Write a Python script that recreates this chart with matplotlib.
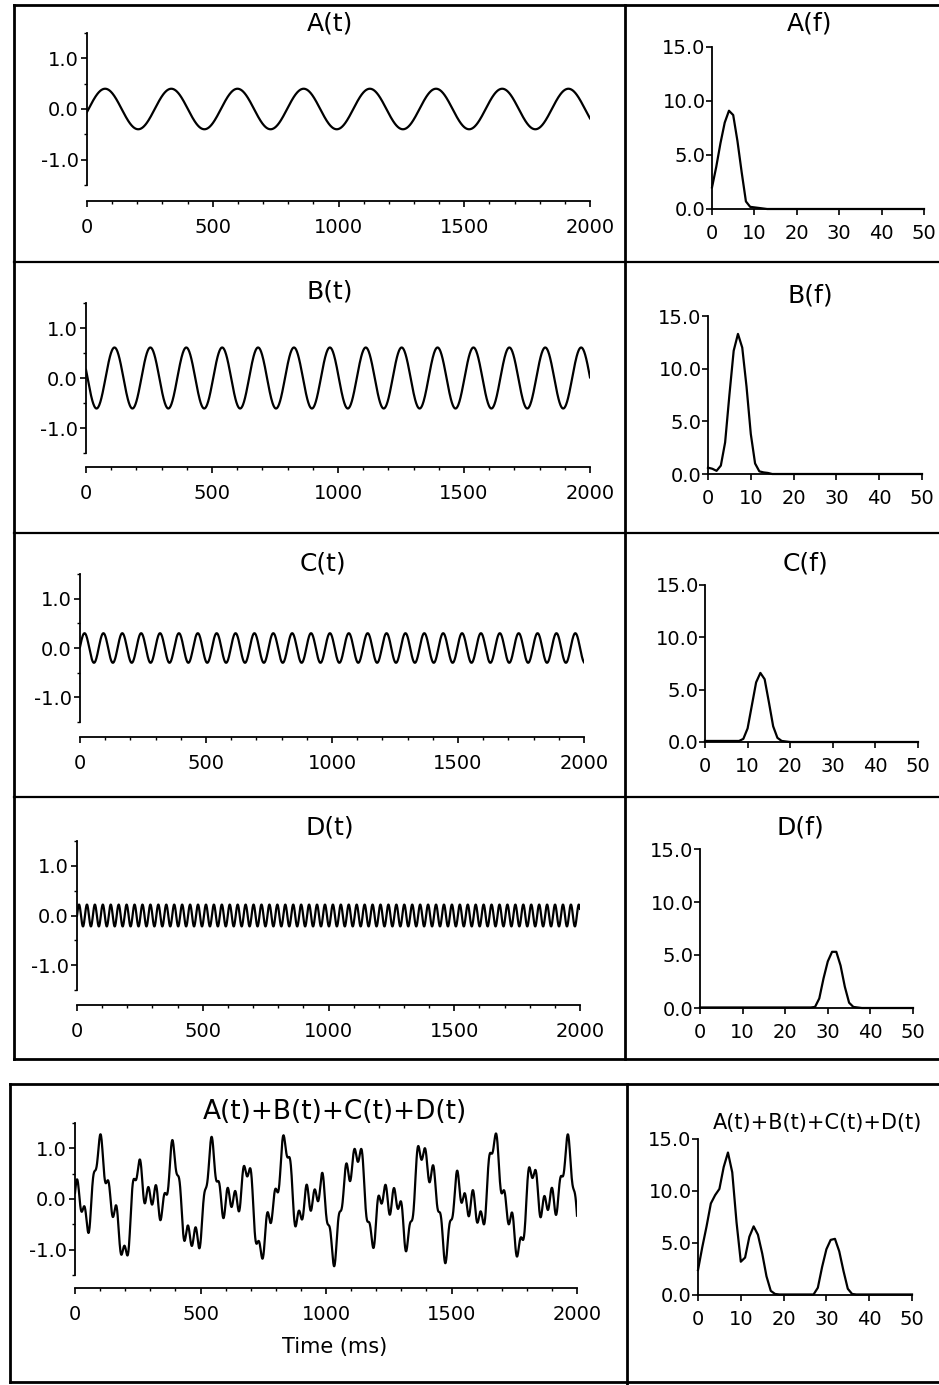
import numpy as np
import matplotlib
matplotlib.use('Agg')
import matplotlib.pyplot as plt
from matplotlib.lines import Line2D
from matplotlib.ticker import MultipleLocator, FixedLocator

plt.rcParams['font.family'] = ['DejaVu Sans']

W, H, DPI = 939, 1385, 100

# ---------------- data ----------------
time_titles = ['A(t)', 'B(t)', 'C(t)', 'D(t)', 'A(t)+B(t)+C(t)+D(t)']
freq_titles = ['A(f)', 'B(f)', 'C(f)', 'D(f)', 'A(t)+B(t)+C(t)+D(t)']

# sinusoidal components (frequency Hz, amplitude, time of first peak ms)
comp_freq_hz = [3.80, 7.02, 13.35, 31.7]
comp_amp = [0.40, 0.61, 0.30, 0.22]
comp_first_peak_ms = [72, 113, 18, 8]

time_ticks = [0, 500, 1000, 1500, 2000]
time_ytick_values = [1.0, 0.0, -1.0]
time_ylabels = ['1.0', '0.0', '-1.0']
freq_ticks = [0, 10, 20, 30, 40, 50]
power_ticks = [0.0, 5.0, 10.0, 15.0]

# spectra read at 1 Hz steps (0..50 Hz)
freq_hz = list(range(0, 51))
spec_A = [2.0, 3.9, 6.1, 8.0, 9.1, 8.7, 6.3, 3.4, 0.7, 0.2, 0.15, 0.1, 0.05] + [0.0] * 38
spec_B = [0.6, 0.5, 0.3, 0.8, 3.0, 7.5, 11.7, 13.3, 12.0, 8.3, 3.8, 1.0, 0.25, 0.15, 0.1] + [0.0] * 36
spec_C = [0.1] * 9 + [0.3, 1.3, 3.5, 5.7, 6.6, 6.0, 3.8, 1.5, 0.4, 0.1, 0.05] + [0.0] * 31
spec_D = [0.05] * 27 + [0.1, 0.9, 2.8, 4.4, 5.3, 5.3, 4.0, 2.0, 0.5, 0.1, 0.05] + [0.0] * 13
spec_sum = [2.4, 4.6, 6.6, 8.8, 9.6, 10.2, 12.3, 13.7, 11.8, 7.0, 3.2, 3.6, 5.6, 6.6, 5.8,
            4.0, 1.8, 0.4, 0.1] + [0.05] * 9 + [0.7, 2.7, 4.4, 5.3, 5.4, 4.2, 2.3, 0.6, 0.1] + [0.05] * 14
spectra = [spec_A, spec_B, spec_C, spec_D, spec_sum]

# ---------------- layout (pixels, top-origin) ----------------
# left panels: x0, x1, ytop(+1.5), ybot(-1.5), x-axis offset px
left_boxes = [
    (87, 590, 33, 185, 16),
    (86, 590, 303, 453, 14),
    (80, 584, 574, 722, 15),
    (77, 580, 841, 990, 15),
    (75, 577, 1123, 1275, 13),
]
# right panels: x0 (0 Hz), x1 (50 Hz), ytop (15), ybot (0)
right_boxes = [
    (712, 924, 47, 209),
    (708, 922, 316, 474),
    (705, 918, 585, 742),
    (700, 913, 849, 1008),
    (698, 912, 1139, 1295),
]
left_title_pos = [(330, 24), (330, 292), (323, 563), (330, 827), (335, 1112)]
right_title_pos = [(810, 24), (810, 295), (805, 563), (800, 827), (818, 1123)]

fig = plt.figure(figsize=(W / DPI, H / DPI), dpi=DPI)
PT = 72.0 / DPI


def rect(x0, x1, ytop, ybot):
    return [x0 / W, 1 - ybot / H, (x1 - x0) / W, (ybot - ytop) / H]


t = np.arange(0, 2001, 1.0)
comps = [a * np.cos(2 * np.pi * f * (t - p) / 1000.0)
         for f, a, p in zip(comp_freq_hz, comp_amp, comp_first_peak_ms)]
signals = comps + [np.sum(comps, axis=0)]

LW = 1.6
TICK_FS = 14
for i in range(5):
    x0, x1, yt, yb, off = left_boxes[i]
    ax = fig.add_axes(rect(x0, x1, yt, yb))
    ax.patch.set_alpha(0)
    ax.plot(t, signals[i], color='black', lw=LW)
    ax.set_xlim(0, 2000)
    ax.set_ylim(-1.5, 1.5)
    for s in ('top', 'right'):
        ax.spines[s].set_visible(False)
    ax.spines['bottom'].set_position(('outward', off * PT))
    for s in ('left', 'bottom'):
        ax.spines[s].set_linewidth(1.3)
    ax.xaxis.set_major_locator(FixedLocator(time_ticks))
    ax.xaxis.set_minor_locator(MultipleLocator(100))
    ax.set_xticklabels([str(v) for v in time_ticks])
    ax.yaxis.set_major_locator(FixedLocator(time_ytick_values))
    ax.set_yticklabels(time_ylabels)
    ax.yaxis.set_minor_locator(MultipleLocator(0.5))
    ax.tick_params(axis='both', which='major', direction='out', length=4, width=1.2,
                   labelsize=TICK_FS)
    ax.tick_params(axis='both', which='minor', direction='out', length=2.5, width=1.0)
    ax.tick_params(axis='x', which='major', pad=8)
    ax.tick_params(axis='y', which='major', pad=2)
    fs = 18 if i < 4 else 19
    fig.text(left_title_pos[i][0] / W, 1 - left_title_pos[i][1] / H, time_titles[i],
             ha='center', va='center', fontsize=fs)
    if i == 4:
        fig.text(335 / W, 1 - 1347 / H, 'Time (ms)', ha='center', va='center', fontsize=15)

for i in range(5):
    x0, x1, yt, yb = right_boxes[i]
    ax = fig.add_axes(rect(x0, x1, yt, yb))
    ax.patch.set_alpha(0)
    ax.plot(freq_hz, spectra[i], color='black', lw=LW, clip_on=False)
    ax.set_xlim(0, 50)
    ax.set_ylim(0, 15)
    for s in ('top', 'right'):
        ax.spines[s].set_visible(False)
    for s in ('left', 'bottom'):
        ax.spines[s].set_linewidth(1.3)
    ax.xaxis.set_major_locator(FixedLocator(freq_ticks))
    ax.set_xticklabels([str(v) for v in freq_ticks])
    ax.yaxis.set_major_locator(FixedLocator(power_ticks))
    ax.set_yticklabels(['%.1f' % v for v in power_ticks])
    ax.tick_params(axis='both', which='major', direction='out', length=4, width=1.2,
                   labelsize=TICK_FS)
    ax.tick_params(axis='x', which='major', pad=7)
    ax.tick_params(axis='y', which='major', pad=0.5)
    fs = 18 if i < 4 else 15
    fig.text(right_title_pos[i][0] / W, 1 - right_title_pos[i][1] / H, freq_titles[i],
             ha='center', va='center', fontsize=fs)

# ---------------- frame lines ----------------
def hline(y, xa, xb, lw=2.0):
    fig.add_artist(Line2D([xa / W, xb / W], [1 - y / H, 1 - y / H], color='black', lw=lw))


def vline(x, ya, yb, lw=2.0):
    fig.add_artist(Line2D([x / W, x / W], [1 - ya / H, 1 - yb / H], color='black', lw=lw))


# upper box (four rows)
hline(5, 14, 939)
for y in (262, 533, 797):
    hline(y, 14, 939, lw=1.6)
hline(1059, 14, 939)
vline(14, 5, 1059)
vline(625, 5, 1059)
# lower box (sum row)
hline(1084, 10, 939)
hline(1382, 10, 939)
vline(10, 1084, 1382)
vline(627, 1084, 1385)

fig.savefig('out.png', dpi=DPI)
